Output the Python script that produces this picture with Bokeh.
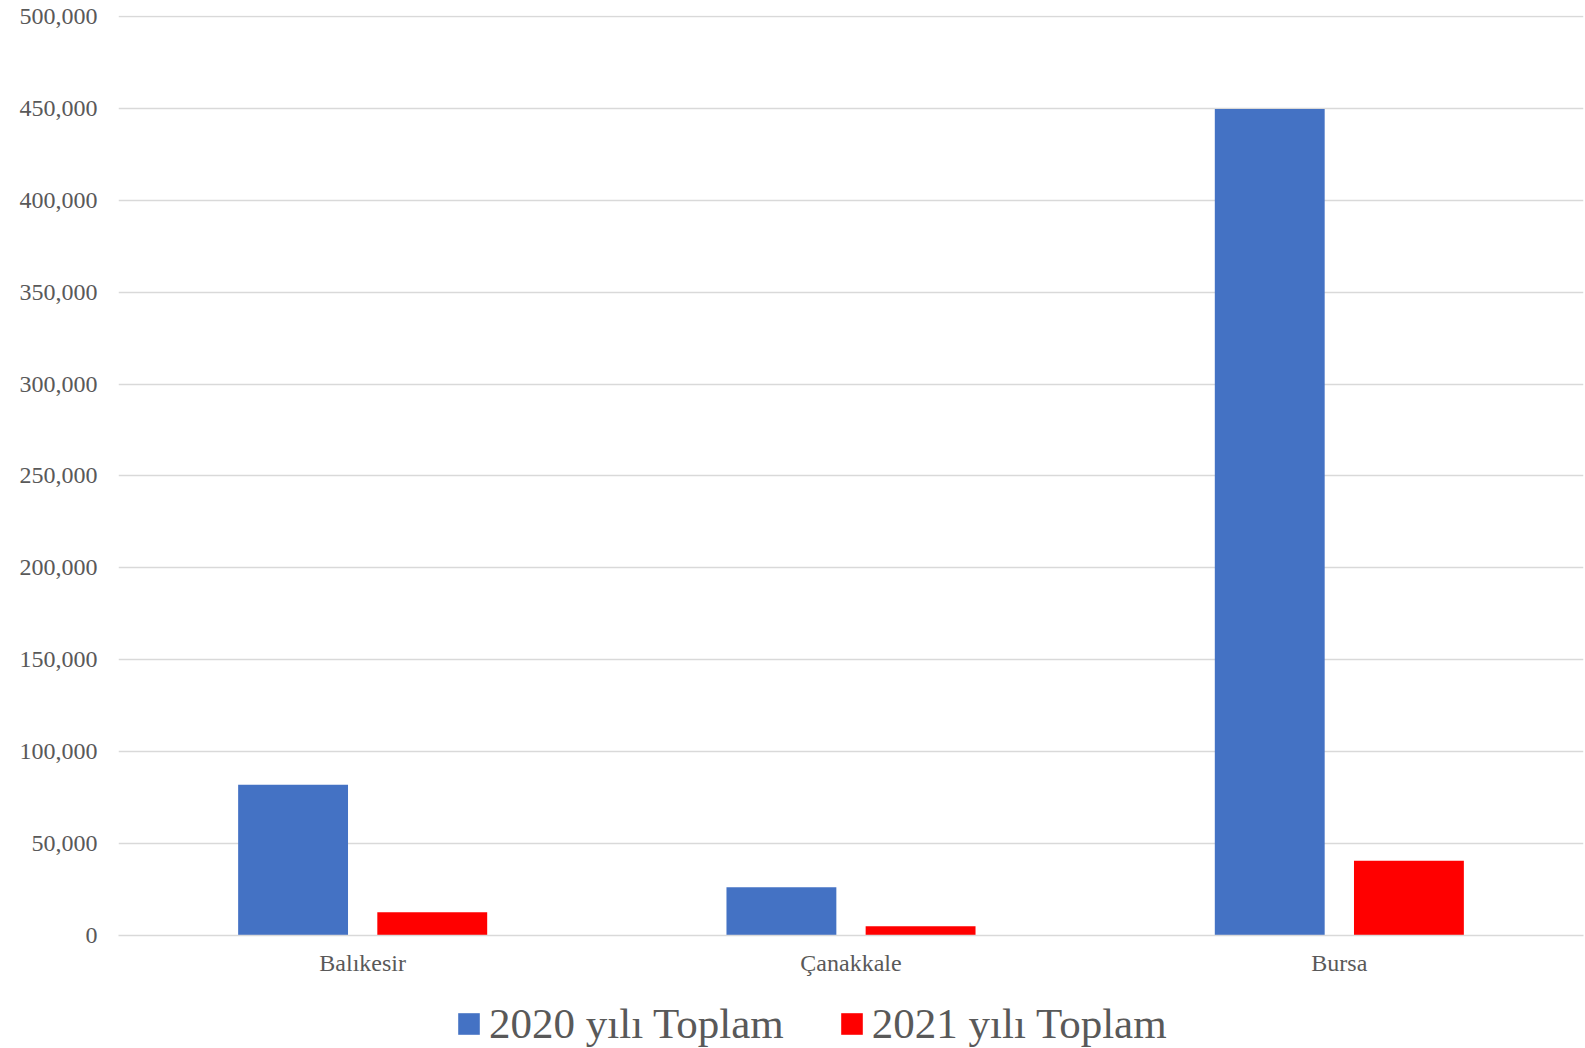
from bokeh.plotting import figure
from bokeh.layouts import column
from bokeh.models import (ColumnDataSource, FactorRange, NumeralTickFormatter,
                          SingleIntervalTicker, Legend, LegendItem, Range1d)
from bokeh.transform import dodge
from bokeh.embed import file_html
from bokeh.resources import INLINE

categories = ["Balıkesir", "Çanakkale", "Bursa"]
series_names = ["2020 yılı Toplam", "2021 yılı Toplam"]
values_2020 = [82000, 26300, 449700]
values_2021 = [12700, 5100, 40600]
colors = ["#4472C4", "#FF0000"]

source = ColumnDataSource(dict(cat=categories, v2020=values_2020, v2021=values_2021))

FONT = "Liberation Serif"
TXT = "#595959"

p = figure(x_range=FactorRange(*categories), y_range=Range1d(0, 500500),
           frame_width=1465, frame_height=920, output_backend="svg", toolbar_location=None,
           min_border_top=15, min_border_left=118, min_border_right=2, min_border_bottom=50)

r1 = p.vbar(x=dodge("cat", -0.1425, range=p.x_range), top="v2020", width=0.225,
            source=source, fill_color=colors[0], line_color=None)
r2 = p.vbar(x=dodge("cat", 0.1425, range=p.x_range), top="v2021", width=0.225,
            source=source, fill_color=colors[1], line_color=None)

p.outline_line_color = None
p.xgrid.grid_line_color = None
p.ygrid.grid_line_color = "#d9d9d9"
p.ygrid.grid_line_width = 1.4

p.yaxis.ticker = SingleIntervalTicker(interval=50000)
p.yaxis.formatter = NumeralTickFormatter(format="0,0")
p.yaxis.axis_line_color = None
p.yaxis.major_tick_line_color = None
p.yaxis.minor_tick_line_color = None
p.yaxis.major_label_standoff = 15
p.yaxis.major_label_text_font = FONT
p.yaxis.major_label_text_font_size = "24px"
p.yaxis.major_label_text_color = TXT

p.xaxis.axis_line_color = "#d9d9d9"
p.xaxis.axis_line_width = 1.4
p.xaxis.major_tick_line_color = None
p.xaxis.minor_tick_line_color = None
p.xaxis.major_label_standoff = 8
p.xaxis.major_label_text_font = FONT
p.xaxis.major_label_text_font_size = "24px"
p.xaxis.major_label_text_color = TXT

# legend strip below the chart (dummy zero-height renderers only carry the legend swatches)
lf = figure(width=1585, height=63, x_range=Range1d(0, 1), y_range=Range1d(0, 1),
            output_backend="svg", toolbar_location=None,
            x_axis_location=None, y_axis_location=None,
            min_border=0, min_border_left=0, min_border_right=0,
            min_border_top=0, min_border_bottom=0)
lf.outline_line_color = None
lf.grid.visible = False
dummy = ColumnDataSource(dict(x=[0.0], top=[0.0]))
l1 = lf.vbar(x="x", top="top", width=0.0, source=dummy, fill_color=colors[0], line_color=None)
l2 = lf.vbar(x="x", top="top", width=0.0, source=dummy, fill_color=colors[1], line_color=None)

legend = Legend(items=[LegendItem(label=series_names[0], renderers=[l1]),
                       LegendItem(label=series_names[1], renderers=[l2])],
                orientation="horizontal", location=(337, 0),
                label_text_font=FONT, label_text_font_size="43px",
                label_text_color=TXT, glyph_width=27, glyph_height=27,
                label_standoff=7, spacing=54, border_line_color=None,
                background_fill_alpha=0, padding=0, margin=0)
lf.add_layout(legend, "center")

layout = column(p, lf, spacing=0)
open("out.html", "w").write(file_html(layout, INLINE))
